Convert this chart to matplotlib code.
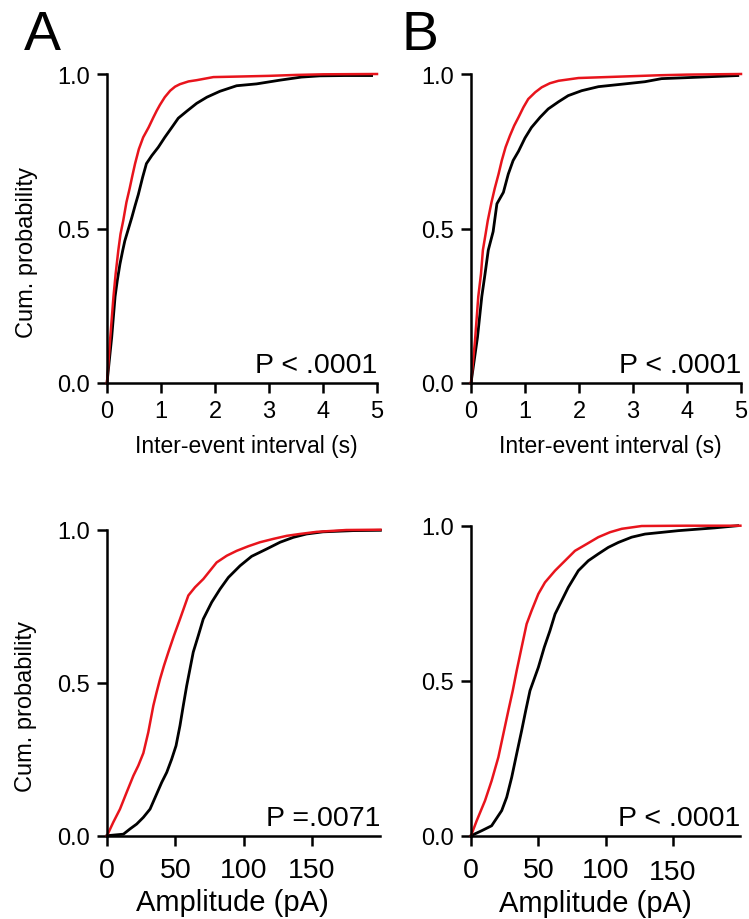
import matplotlib
matplotlib.use("Agg")
import matplotlib.pyplot as plt
import matplotlib.transforms as mtransforms

plt.rcParams['font.family'] = ['Liberation Sans', 'DejaVu Sans']

# ---------------- data ----------------
# Panel A, inter-event interval (s)
iei_a_red_x = [0, 0.056, 0.12, 0.16, 0.21, 0.25, 0.30, 0.36, 0.42, 0.47, 0.52, 0.59, 0.67, 0.77, 0.86, 0.92,
               0.98, 1.07, 1.17, 1.26, 1.35, 1.51, 1.66, 1.97, 2.5, 3.0, 3.5, 4.0, 5.0]
iei_a_red_y = [0, 0.137, 0.28, 0.353, 0.43, 0.482, 0.525, 0.585, 0.63, 0.671, 0.71, 0.757, 0.795, 0.827, 0.86, 0.881,
               0.90, 0.925, 0.946, 0.959, 0.967, 0.976, 0.98, 0.99, 0.992, 0.994, 0.997, 0.999, 1.0]
iei_a_blk_x = [0, 0.087, 0.15, 0.19, 0.24, 0.29, 0.33, 0.395, 0.46, 0.52, 0.58, 0.66, 0.73, 0.83, 0.95, 1.07, 1.2,
               1.32, 1.48, 1.66, 1.85, 2.09, 2.4, 2.77, 3.2, 3.6, 3.94, 4.4, 4.9]
iei_a_blk_y = [0, 0.148, 0.28, 0.331, 0.385, 0.428, 0.46, 0.498, 0.536, 0.574, 0.61, 0.666, 0.71, 0.736, 0.763, 0.795,
               0.827, 0.857, 0.88, 0.905, 0.925, 0.944, 0.962, 0.968, 0.98, 0.99, 0.994, 0.995, 0.995]

# Panel B, inter-event interval (s)
iei_b_red_x = [0, 0.074, 0.135, 0.185, 0.22, 0.27, 0.31, 0.38, 0.44, 0.51, 0.57, 0.64, 0.72, 0.80, 0.88, 0.97, 1.06,
               1.19, 1.31, 1.46, 1.62, 1.99, 2.5, 3.0, 3.5, 4.0, 5.0]
iei_b_red_y = [0, 0.137, 0.28, 0.353, 0.43, 0.482, 0.525, 0.585, 0.63, 0.676, 0.72, 0.763, 0.80, 0.833, 0.86, 0.892,
               0.919, 0.941, 0.957, 0.97, 0.978, 0.987, 0.99, 0.993, 0.996, 0.998, 1.0]
iei_b_blk_x = [0, 0.12, 0.2, 0.26, 0.32, 0.41, 0.48, 0.6, 0.69, 0.78, 0.88, 1.0, 1.12, 1.28, 1.43, 1.62, 1.8, 2.05,
               2.36, 2.85, 3.22, 3.53, 3.97, 4.94]
iei_b_blk_y = [0, 0.148, 0.28, 0.353, 0.43, 0.49, 0.58, 0.617, 0.676, 0.72, 0.75, 0.793, 0.827, 0.86, 0.887, 0.91,
               0.93, 0.946, 0.959, 0.968, 0.975, 0.985, 0.988, 0.995]

# Panel A, amplitude (pA)
amp_a_red_x = [0, 4.6, 9.5, 14.4, 19.3, 22.9, 26.6, 30.2, 33.9, 36.3, 38.8, 41.7, 44.9, 49, 53.4, 59.5, 64.4, 70.5,
               80.2, 87.6, 94.9, 103.4, 111.9, 121.7, 131.5, 141, 153.4, 175, 200]
amp_a_red_y = [0, 0.044, 0.087, 0.142, 0.196, 0.229, 0.27, 0.338, 0.425, 0.469, 0.512, 0.556, 0.6, 0.654, 0.708,
               0.785, 0.812, 0.839, 0.893, 0.915, 0.931, 0.946, 0.959, 0.97, 0.98, 0.986, 0.993, 0.999, 1.0]
amp_a_blk_x = [0, 12, 16.8, 21.7, 26.6, 31.5, 35.8, 40, 43.7, 47.3, 50.5, 53.4, 55.8, 58.3, 60.7, 63.1, 66.8, 70.4,
               76.6, 82.7, 88.8, 97.3, 105.8, 116.8, 126.6, 136.3, 146, 158, 180, 200]
amp_a_blk_y = [0, 0.005, 0.022, 0.038, 0.06, 0.087, 0.131, 0.174, 0.207, 0.25, 0.294, 0.36, 0.425, 0.49, 0.545, 0.6,
               0.654, 0.708, 0.763, 0.806, 0.844, 0.882, 0.913, 0.937, 0.959, 0.975, 0.986, 0.993, 0.997, 0.998]

# Panel B, amplitude (pA)
amp_b_red_x = [0, 4.2, 10.4, 15.3, 20.3, 24, 27.7, 31, 33.9, 37.6, 41.3, 45, 50, 54.9, 62.4, 69.8, 77.2, 85.9, 94.5,
               103.2, 111.9, 126.7, 160, 200]
amp_b_red_y = [0, 0.048, 0.113, 0.177, 0.253, 0.328, 0.403, 0.468, 0.532, 0.608, 0.683, 0.726, 0.78, 0.817, 0.855,
               0.887, 0.919, 0.941, 0.963, 0.979, 0.99, 0.999, 1.0, 1.0]
amp_b_blk_x = [0, 7.9, 15.3, 22.8, 26.5, 30.2, 33.9, 37.6, 40.6, 43.8, 50, 54.4, 58.6, 62.4, 67.3, 72.2, 79.7, 87.1,
               94.5, 101.9, 109.4, 119.3, 129.2, 153.9, 181, 198]
amp_b_blk_y = [0, 0.016, 0.032, 0.081, 0.124, 0.188, 0.264, 0.339, 0.403, 0.468, 0.543, 0.608, 0.661, 0.715, 0.758,
               0.801, 0.855, 0.887, 0.909, 0.93, 0.946, 0.963, 0.973, 0.984, 0.993, 1.0]

y_ticks = [0.0, 0.5, 1.0]
y_ticklabels = ['0.0', '0.5', '1.0']
iei_ticks = [0, 1, 2, 3, 4, 5]
amp_ticks = [0, 50, 100, 150]
p_texts = ['P < .0001', 'P < .0001', 'P =.0071', 'P < .0001']
panel_letters = ['A', 'B']

RED = '#e8141c'
W, H = 749, 920

fig = plt.figure(figsize=(7.49, 9.2), dpi=100)

def px_axes(left, bottom_px, width, height):
    return fig.add_axes([left / W, 1 - bottom_px / H, width / W, height / H])

axes = [
    px_axes(107, 384, 270, 309),
    px_axes(471, 384, 270, 309),
    px_axes(107, 836.7, 273.4, 306),
    px_axes(471, 836.7, 269.4, 310),
]

curves = [
    (iei_a_blk_x, iei_a_blk_y, iei_a_red_x, iei_a_red_y),
    (iei_b_blk_x, iei_b_blk_y, iei_b_red_x, iei_b_red_y),
    (amp_a_blk_x, amp_a_blk_y, amp_a_red_x, amp_a_red_y),
    (amp_b_blk_x, amp_b_blk_y, amp_b_red_x, amp_b_red_y),
]

for i, ax in enumerate(axes):
    bx, by, rx, ry = curves[i]
    ax.plot(bx, by, color='black', lw=2.0, clip_on=False, solid_joinstyle='round')
    ax.plot(rx, ry, color=RED, lw=1.8, clip_on=False, solid_joinstyle='round')
    top = i < 2
    ax.set_ylim(0, 1)
    if top:
        ax.set_xlim(0, 5)
        ax.set_xticks(iei_ticks)
        ax.set_xticklabels([str(t) for t in iei_ticks])
        tick_fs = 17
        xpad = 5.5
    else:
        ax.set_xlim(0, 200)
        ax.set_xticks(amp_ticks)
        ax.set_xticklabels([str(t) for t in amp_ticks])
        tick_fs = 20.5
        xpad = 8
    ax.set_yticks(y_ticks)
    ax.set_yticklabels(y_ticklabels)
    for s in ['top', 'right']:
        ax.spines[s].set_visible(False)
    for s in ['left', 'bottom']:
        ax.spines[s].set_linewidth(1.8)
    ax.tick_params(axis='both', direction='out', length=7, width=1.8)
    ax.tick_params(axis='y', labelsize=17, pad=5.5)
    ax.tick_params(axis='x', labelsize=tick_fs, pad=xpad)
    ax.text(1.0, 0.035, p_texts[i], transform=ax.transAxes, ha='right', va='baseline', fontsize=20.5)

for i in (0, 2):
    axes[i].set_ylabel('Cum. probability', fontsize=17)
    axes[i].yaxis.set_label_coords(-0.255, 0.425)

for i in (0, 1):
    axes[i].set_xlabel('Inter-event interval (s)', fontsize=16.5)
    axes[i].xaxis.set_label_coords(0.515, -0.165)
for i in (2, 3):
    axes[i].set_xlabel('Amplitude (pA)', fontsize=21)
    axes[i].xaxis.set_label_coords(0.46, -0.172)

# slightly lowered "150" label in the bottom-right panel, as in the reference
lbl = axes[3].get_xticklabels()[3]
lbl.set_transform(lbl.get_transform() + mtransforms.ScaledTranslation(0, -2.0 / 100, fig.dpi_scale_trans))

fig.text(24 / W, 1 - 50 / H, panel_letters[0], fontsize=40, ha='left', va='baseline')
fig.text(402 / W, 1 - 50 / H, panel_letters[1], fontsize=40, ha='left', va='baseline')

fig.savefig('out.png', dpi=100)
